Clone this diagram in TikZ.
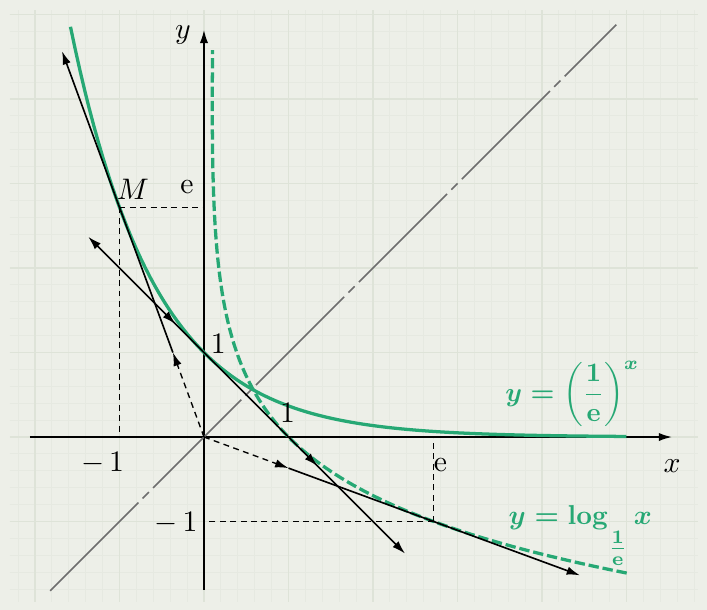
\documentclass[tikz,border=0pt]{standalone}
\usepackage{amsmath,amssymb}
\usepackage{tikz}
\usepackage{xcolor}
\usetikzlibrary{arrows.meta,decorations.markings}
\definecolor{curvegreen}{RGB}{38,168,116}
\definecolor{paper}{RGB}{237,239,232}
\definecolor{gridmajor}{RGB}{222,227,216}
\definecolor{gridminor}{RGB}{230,233,225}
\definecolor{diaggray}{RGB}{110,110,110}
\newcommand{\explabtext}{{\boldmath$y=\biggl(\dfrac{1}{\mathbf{e}}\biggr)^{x}$}}
\newcommand{\loglabtext}{{\boldmath$y=\log_{\raisebox{-2.0ex}{$\tfrac{1}{\mathbf{e}}$}}x$}}

\begin{document}
\begin{tikzpicture}[x=1cm,y=1cm,>={Latex[length=4.5pt,width=2.8pt]},
  gcurve/.style={curvegreen,line width=1.1pt},
  helper/.style={dash pattern=on 2pt off 1.5pt,line width=0.45pt},
  tangentline/.style={line width=0.55pt},
  midarrows/.style={postaction={decorate},decoration={markings,mark=at position 0.275 with {\arrow{>}},mark=at position 0.723 with {\arrow{>}}}}]
  \useasboundingbox (-2.414,-2.047) rectangle (5.953,5.172);
  \fill[paper] (-2.414,-2.047) rectangle (5.953,5.172);
  \draw[gridminor,line width=0.3pt,step=0.2] (-2.3,-1.95) grid (5.85,5.05); \draw[gridmajor,line width=0.5pt,step=1] (-2.3,-1.95) grid (5.85,5.05);
  % axes
  \draw[line width=0.6pt,->] (-2.06,0) -- (5.54,0) node[below=4pt] (xlab) {$x$}; \draw[line width=0.6pt,->] (0,-1.81) -- (0,4.82); \node (ylab) at (-0.25,4.76) {$y$};
  \coordinate (O) at (0,0); \coordinate (M) at (-1,2.718); \coordinate (N) at (2.718,-1);
  % y = x
  \draw[diaggray,line width=0.5pt,dash pattern=on 42pt off 2pt on 3pt off 2pt] (-1.82,-1.82) -- (4.88,4.88);
  % curves
  \draw[gcurve,domain=-1.58:5.0,samples=120] plot (\x,{exp(-\x)});
  \draw[gcurve,dash pattern=on 3.5pt off 1.3pt,domain=-1.61:4.58,samples=150] plot ({exp(-\x)+0.02*max(\x,0)},\x);
  % helper lines
  \draw[helper] (M) -- (-1,0) (M) -- (0,2.718); \draw[helper] (N) -- (2.718,0) (N) -- (0,-1);
  % tangents
  \coordinate (P1) at (-0.368,1); \coordinate (P2) at (1,-0.368);
  \draw[tangentline,helper,->] (O) -- (P1); \draw[tangentline,->] (P1) -- (-1.68,4.567);
  \draw[tangentline,helper,->] (O) -- (P2); \draw[tangentline,->] (P2) -- (4.45,-1.637);
  \draw[tangentline,<->,midarrows] (-1.37,2.37) -- (2.38,-1.38);
  % labels
  \node (mlab) at (-0.84,2.93) {$M$}; \node (elab) at (-0.2,2.96) {e}; \node (one1) at (0.17,1.11) {1}; \node (one2) at (0.99,0.29) {1};
  \node (mone1) at (-1.2,-0.31) {$-\,1$}; \node (mone2) at (-0.33,-1.02) {$-\,1$}; \node (elab2) at (2.8,-0.33) {e};
  \node[text=curvegreen,scale=0.9,anchor=base west,inner sep=0pt] (explab) at (3.56,0.42) {\explabtext};
  \node[text=curvegreen,scale=0.92,anchor=base west,inner sep=0pt] (loglab) at (3.6,-1.04) {\loglabtext};
\end{tikzpicture}
\end{document}
